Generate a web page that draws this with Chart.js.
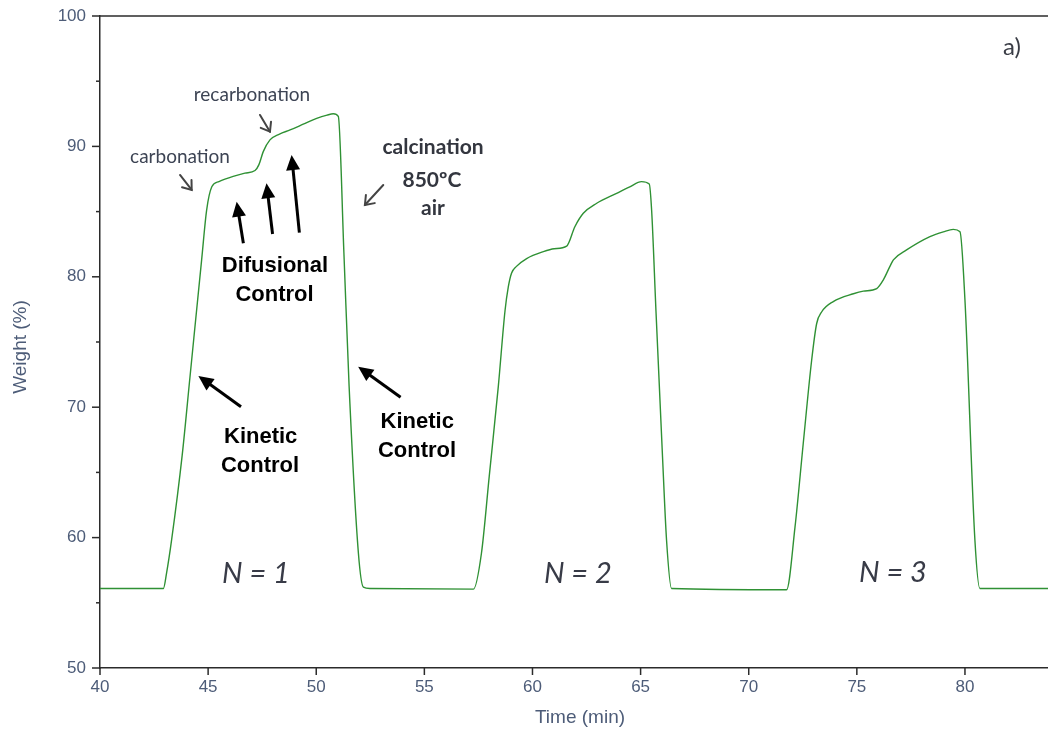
<!DOCTYPE html>
<html>
<head>
<meta charset="utf-8">
<script src="https://cdn.jsdelivr.net/npm/chart.js@4.4.1/dist/chart.umd.min.js"></script>
<style>
  html, body { margin: 0; padding: 0; background: #fff; }
  canvas { display: block; }
</style>
</head>
<body>
<canvas id="tgaChart" width="1048" height="729"></canvas>
<script>
// TGA curve, three carbonation / calcination cycles
var timeMin = [
  40.0, 42.93, 43.08, 43.31, 43.8, 44.16, 44.7, 44.93, 45.17, 45.5, 46.16, 46.7, 47.17, 47.35, 47.55, 47.86,
  48.3, 48.79, 49.4, 50.02, 50.5, 50.79, 51.02, 51.28, 51.52, 51.95, 52.18, 52.5, 57.27,
  57.64, 58.0, 58.42, 58.73, 58.88, 59.03, 59.26, 59.73, 60.5, 61.0, 61.58, 61.96, 62.35, 62.97, 63.89,
  64.5, 65.04, 65.4, 65.51, 65.71, 66.0, 66.2, 66.43, 71.75,
  72.14, 72.52, 72.91, 73.14, 73.37, 73.91, 74.84, 75.3, 75.92, 76.22, 76.53, 76.69, 77.3, 78.38,
  79.0, 79.46, 79.77, 80.0, 80.46, 80.69, 84.0
];
var weightPct = [
  56.1, 56.1, 57.3, 59.8, 66.3, 72.3, 81.3, 85.1, 86.9, 87.3, 87.7, 87.95, 88.15, 88.6, 89.6, 90.5,
  90.95, 91.26, 91.7, 92.15, 92.4, 92.5, 92.3, 81.8, 71.6, 58.8, 56.2, 56.1, 56.05,
  58.8, 64.7, 71.6, 77.4, 79.2, 80.27, 80.8, 81.4, 81.93, 82.15, 82.35, 83.84, 84.87, 85.64, 86.4,
  86.9, 87.3, 87.12, 85.1, 77.4, 66.7, 59.8, 56.1, 56.0,
  60.8, 67.2, 73.6, 76.4, 77.3, 78.1, 78.7, 78.9, 79.1, 79.75, 80.8, 81.3, 82.06, 83.08,
  83.45, 83.64, 83.46, 78.2, 59.8, 56.1, 56.1
];
var xTickValues = [40, 45, 50, 55, 60, 65, 70, 75, 80];
var yTickLabels = [50, 60, 70, 80, 90, 100];

// annotations, placed in data units (time, weight)
var notes = [
  { text: 'a)', t: 82.17, w: 97.6, font: '24px Lato', color: '#3a3d46' },
  { text: 'carbonation', t: 43.70, w: 89.2, font: '19px Lato', color: '#3d4454' },
  { text: 'recarbonation', t: 47.03, w: 93.95, font: '19px Lato', color: '#3d4454' },
  { text: 'calcination', t: 55.40, w: 89.95, font: 'bold 21px Lato', color: '#33363f' },
  { text: '850ºC', t: 55.35, w: 87.42, font: 'bold 21px Lato', color: '#33363f' },
  { text: 'air', t: 55.40, w: 85.28, font: 'bold 21px Lato', color: '#33363f' },
  { text: 'Difusional', t: 48.09, w: 80.83, font: 'bold 22px "Liberation Sans"', color: '#000' },
  { text: 'Control', t: 48.07, w: 78.6, font: 'bold 22px "Liberation Sans"', color: '#000' },
  { text: 'Kinetic', t: 47.43, w: 67.69, font: 'bold 22px "Liberation Sans"', color: '#000' },
  { text: 'Control', t: 47.40, w: 65.49, font: 'bold 22px "Liberation Sans"', color: '#000' },
  { text: 'Kinetic', t: 54.67, w: 68.89, font: 'bold 22px "Liberation Sans"', color: '#000' },
  { text: 'Control', t: 54.66, w: 66.64, font: 'bold 22px "Liberation Sans"', color: '#000' },
  { text: 'N = 1', t: 47.21, w: 57.21, font: 'italic 29px Lato', color: '#383b47' },
  { text: 'N = 2', t: 62.10, w: 57.21, font: 'italic 29px Lato', color: '#383b47' },
  { text: 'N = 3', t: 76.67, w: 57.29, font: 'italic 29px Lato', color: '#383b47' }
];
// arrows: tail -> tip, 'bold' = black filled head, 'thin' = grey open head
var arrows = [
  { t0: 43.70, w0: 87.81, t1: 44.24, w1: 86.66, kind: 'thin' },
  { t0: 47.40, w0: 92.41, t1: 47.86, w1: 91.13, kind: 'thin' },
  { t0: 53.10, w0: 87.04, t1: 52.25, w1: 85.51, kind: 'thin' },
  { t0: 46.63, w0: 82.57, t1: 46.32, w1: 85.76, kind: 'bold' },
  { t0: 47.98, w0: 83.28, t1: 47.70, w1: 87.17, kind: 'bold' },
  { t0: 49.22, w0: 83.38, t1: 48.86, w1: 89.34, kind: 'bold' },
  { t0: 46.52, w0: 70.04, t1: 44.55, w1: 72.39, kind: 'bold' },
  { t0: 53.90, w0: 70.76, t1: 51.94, w1: 73.11, kind: 'bold' }
];

var axisInk = '#2b2b2b';
var tickInk = '#4d5c78';

Chart.defaults.font.family = '"Liberation Sans", Arial, sans-serif';

function drawArrow(ctx, x0, y0, x1, y1, kind) {
  var ang = Math.atan2(y1 - y0, x1 - x0);
  ctx.save();
  if (kind === 'bold') {
    var headL = 15, headW = 7;
    ctx.strokeStyle = '#000';
    ctx.fillStyle = '#000';
    ctx.lineWidth = 3;
    ctx.beginPath();
    ctx.moveTo(x0, y0);
    ctx.lineTo(x1 - Math.cos(ang) * headL * 0.8, y1 - Math.sin(ang) * headL * 0.8);
    ctx.stroke();
    ctx.translate(x1, y1);
    ctx.rotate(ang);
    ctx.beginPath();
    ctx.moveTo(0, 0);
    ctx.lineTo(-headL, -headW);
    ctx.lineTo(-headL, headW);
    ctx.closePath();
    ctx.fill();
  } else {
    ctx.strokeStyle = '#444';
    ctx.lineWidth = 2;
    ctx.lineCap = 'round';
    ctx.beginPath();
    ctx.moveTo(x0, y0);
    ctx.lineTo(x1, y1);
    ctx.stroke();
    ctx.translate(x1, y1);
    ctx.rotate(ang);
    ctx.beginPath();
    ctx.moveTo(-8, -6);
    ctx.lineTo(0, 0);
    ctx.lineTo(-8, 6);
    ctx.stroke();
  }
  ctx.restore();
}

// frame, tick marks, axis titles and the figure notes
const figureDecor = {
  id: 'figureDecor',
  afterDraw(chart) {
    const { ctx, chartArea: { top, bottom, left, right }, scales: { x, y } } = chart;
    ctx.save();

    // top frame line (plot runs off the right edge)
    ctx.strokeStyle = axisInk;
    ctx.lineWidth = 1.5;
    ctx.beginPath();
    ctx.moveTo(left, top);
    ctx.lineTo(right, top);
    ctx.stroke();

    // tick marks: major every 10 on y, minor at the fives
    y.ticks.forEach(function (tk) {
      var py = y.getPixelForValue(tk.value);
      var len = tk.value % 10 === 0 ? 8 : 4;
      ctx.beginPath();
      ctx.moveTo(left - len, py);
      ctx.lineTo(left, py);
      ctx.stroke();
    });
    x.ticks.forEach(function (tk) {
      var px = x.getPixelForValue(tk.value);
      ctx.beginPath();
      ctx.moveTo(px, bottom);
      ctx.lineTo(px, bottom + 7);
      ctx.stroke();
    });

    // axis titles
    ctx.fillStyle = tickInk;
    ctx.font = '19px "Liberation Sans", Arial';
    ctx.textAlign = 'center';
    ctx.textBaseline = 'middle';
    ctx.fillText('Time (min)', (left + right) / 2 + 6, 718);
    ctx.translate(21, (top + bottom) / 2 + 5);
    ctx.rotate(-Math.PI / 2);
    ctx.fillText('Weight (%)', 0, 0);
    ctx.setTransform(1, 0, 0, 1, 0, 0);

    // notes
    notes.forEach(function (n) {
      ctx.font = n.font;
      ctx.fillStyle = n.color;
      ctx.fillText(n.text, x.getPixelForValue(n.t), y.getPixelForValue(n.w));
    });
    arrows.forEach(function (a) {
      drawArrow(ctx,
        x.getPixelForValue(a.t0), y.getPixelForValue(a.w0),
        x.getPixelForValue(a.t1), y.getPixelForValue(a.w1), a.kind);
    });
    ctx.restore();
  }
};

const tgaData = {
  datasets: [{
    label: 'Weight',
    data: timeMin.map(function (t, i) { return { x: t, y: weightPct[i] }; }),
    borderColor: '#2f9134',
    borderWidth: 1.4,
    pointRadius: 0,
    fill: false,
    cubicInterpolationMode: 'monotone'
  }]
};

const config = {
  type: 'line',
  data: tgaData,
  options: {
    responsive: false,
    animation: false,
    devicePixelRatio: 1,
    layout: { padding: { top: 16, right: 0, left: 0, bottom: 0 } },
    plugins: {
      legend: { display: false },
      tooltip: { enabled: false }
    },
    scales: {
      x: {
        type: 'linear',
        min: 40,
        max: 83.84,
        afterFit: function (s) {
          s.height = 61;
          s.paddingLeft = 0;
          s.paddingRight = 0;
        },
        afterBuildTicks: function (s) {
          s.ticks = xTickValues.map(function (v) { return { value: v }; });
        },
        ticks: {
          includeBounds: false,
          autoSkip: false,
          maxRotation: 0,
          padding: 9,
          color: tickInk,
          font: { size: 17 }
        },
        grid: { display: false, drawTicks: false },
        border: { display: true, color: axisInk, width: 1.5 }
      },
      y: {
        min: 50,
        max: 100,
        afterFit: function (s) {
          s.width = 100;
          s.paddingTop = 0;
          s.paddingBottom = 0;
        },
        ticks: {
          stepSize: 5,
          padding: 14,
          color: tickInk,
          font: { size: 17 },
          callback: function (v) { return yTickLabels.indexOf(v) >= 0 ? v : ''; }
        },
        grid: { display: false, drawTicks: false },
        border: { display: true, color: axisInk, width: 1.5 }
      }
    }
  },
  plugins: [figureDecor]
};

const tgaChart = new Chart(document.getElementById('tgaChart'), config);
</script>
</body>
</html>
